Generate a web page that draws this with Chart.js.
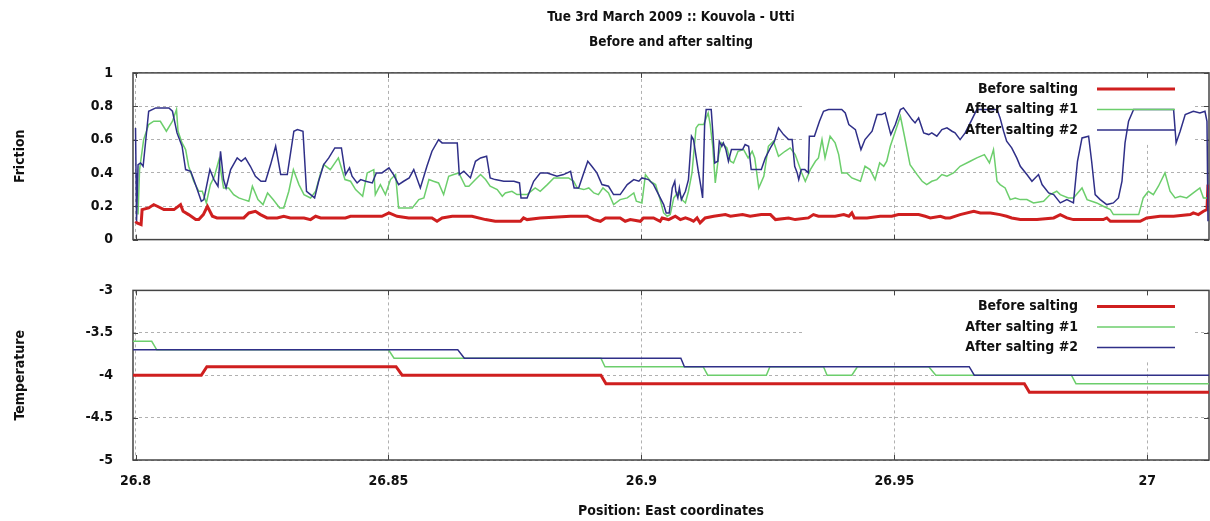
<!DOCTYPE html>
<html>
<head>
<meta charset="utf-8">
<script src="https://cdn.jsdelivr.net/npm/chart.js@4.4.1/dist/chart.umd.min.js"></script>
<style>
  html, body { margin: 0; padding: 0; background: #fff; }
  #wrap { position: relative; width: 1210px; height: 521px; overflow: hidden; background: #fff; }
  #friction { position: absolute; left: 0; top: 0; }
  #temperature { position: absolute; left: 0; top: 262px; }
</style>
</head>
<body>
<div id="wrap">
  <canvas id="friction" width="1210" height="268"></canvas>
  <canvas id="temperature" width="1210" height="259"></canvas>
</div>
<script>
// x axis: position, east coordinates
const xMin = 26.7995
const xMax = 27.0122
const xStep = 0.05

const seriesLabels = ['Before salting', 'After salting #1', 'After salting #2']

// Friction, before salting
const beforeFrictionX = [26.8000, 26.8003, 26.8011, 26.8013, 26.8026, 26.8036, 26.8043, 26.8056, 26.8076, 26.8089, 26.8094, 26.8105, 26.8119, 26.8125, 26.8134, 26.8142, 26.8152, 26.8161, 26.8214, 26.8224, 26.8237, 26.8247, 26.8260, 26.8280, 26.8293, 26.8306, 26.8333, 26.8346, 26.8356, 26.8366, 26.8389, 26.8415, 26.8425, 26.8451, 26.8468, 26.8487, 26.8501, 26.8517, 26.8540, 26.8586, 26.8596, 26.8606, 26.8626, 26.8665, 26.8692, 26.8711, 26.8761, 26.8767, 26.8774, 26.8800, 26.8860, 26.8893, 26.8906, 26.8919, 26.8929, 26.8958, 26.8968, 26.8978, 26.8998, 26.9004, 26.9024, 26.9037, 26.9041, 26.9054, 26.9067, 26.9077, 26.9087, 26.9097, 26.9103, 26.9110, 26.9116, 26.9126, 26.9143, 26.9166, 26.9176, 26.9200, 26.9215, 26.9237, 26.9255, 26.9265, 26.9291, 26.9304, 26.9330, 26.9340, 26.9350, 26.9383, 26.9400, 26.9410, 26.9416, 26.9421, 26.9446, 26.9472, 26.9495, 26.9508, 26.9548, 26.9561, 26.9571, 26.9591, 26.9601, 26.9610, 26.9630, 26.9657, 26.9670, 26.9690, 26.9709, 26.9722, 26.9732, 26.9749, 26.9782, 26.9815, 26.9828, 26.9841, 26.9854, 26.9913, 26.9920, 26.9927, 26.9986, 26.9999, 27.0025, 27.0052, 27.0085, 27.0091, 27.0101, 27.0111, 27.0118, 27.0120]
const beforeFrictionY = [0.11, 0.10, 0.09, 0.18, 0.19, 0.21, 0.20, 0.18, 0.18, 0.21, 0.17, 0.15, 0.12, 0.12, 0.15, 0.20, 0.14, 0.13, 0.13, 0.16, 0.17, 0.15, 0.13, 0.13, 0.14, 0.13, 0.13, 0.12, 0.14, 0.13, 0.13, 0.13, 0.14, 0.14, 0.14, 0.14, 0.16, 0.14, 0.13, 0.13, 0.11, 0.13, 0.14, 0.14, 0.12, 0.11, 0.11, 0.13, 0.12, 0.13, 0.14, 0.14, 0.12, 0.11, 0.13, 0.13, 0.11, 0.12, 0.11, 0.13, 0.13, 0.11, 0.13, 0.12, 0.14, 0.12, 0.13, 0.12, 0.11, 0.13, 0.10, 0.13, 0.14, 0.15, 0.14, 0.15, 0.14, 0.15, 0.15, 0.12, 0.13, 0.12, 0.13, 0.15, 0.14, 0.14, 0.15, 0.14, 0.16, 0.13, 0.13, 0.14, 0.14, 0.15, 0.15, 0.14, 0.13, 0.14, 0.13, 0.13, 0.15, 0.17, 0.16, 0.16, 0.15, 0.14, 0.13, 0.12, 0.12, 0.13, 0.15, 0.13, 0.12, 0.12, 0.13, 0.11, 0.11, 0.13, 0.14, 0.14, 0.15, 0.16, 0.15, 0.17, 0.18, 0.33]

// Friction, after salting #1
const after1FrictionX = [26.8005, 26.8008, 26.8016, 26.8026, 26.8036, 26.8049, 26.8061, 26.8073, 26.8081, 26.8084, 26.8092, 26.8099, 26.8105, 26.8115, 26.8125, 26.8132, 26.8140, 26.8148, 26.8156, 26.8165, 26.8174, 26.8184, 26.8194, 26.8204, 26.8214, 26.8224, 26.8231, 26.8242, 26.8252, 26.8261, 26.8272, 26.8285, 26.8293, 26.8303, 26.8312, 26.8323, 26.8333, 26.8346, 26.8356, 26.8366, 26.8372, 26.8385, 26.8401, 26.8414, 26.8425, 26.8435, 26.8449, 26.8458, 26.8471, 26.8474, 26.8484, 26.8494, 26.8504, 26.8514, 26.8520, 26.8534, 26.8547, 26.8560, 26.8570, 26.8580, 26.8589, 26.8599, 26.8609, 26.8619, 26.8629, 26.8639, 26.8652, 26.8659, 26.8672, 26.8682, 26.8692, 26.8701, 26.8715, 26.8725, 26.8731, 26.8744, 26.8754, 26.8764, 26.8774, 26.8790, 26.8800, 26.8814, 26.8827, 26.8843, 26.8856, 26.8866, 26.8873, 26.8886, 26.8896, 26.8906, 26.8915, 26.8924, 26.8935, 26.8945, 26.8958, 26.8972, 26.8985, 26.8990, 26.9001, 26.9008, 26.9018, 26.9028, 26.9037, 26.9044, 26.9051, 26.9057, 26.9064, 26.9074, 26.9080, 26.9087, 26.9093, 26.9100, 26.9108, 26.9113, 26.9123, 26.9132, 26.9136, 26.9141, 26.9146, 26.9153, 26.9159, 26.9169, 26.9176, 26.9182, 26.9191, 26.9202, 26.9211, 26.9219, 26.9224, 26.9232, 26.9242, 26.9251, 26.9261, 26.9271, 26.9284, 26.9294, 26.9304, 26.9317, 26.9324, 26.9334, 26.9344, 26.9350, 26.9357, 26.9363, 26.9373, 26.9383, 26.9390, 26.9396, 26.9406, 26.9416, 26.9433, 26.9442, 26.9452, 26.9462, 26.9471, 26.9479, 26.9485, 26.9492, 26.9502, 26.9512, 26.9520, 26.9531, 26.9545, 26.9555, 26.9564, 26.9574, 26.9584, 26.9594, 26.9604, 26.9617, 26.9630, 26.9650, 26.9663, 26.9678, 26.9688, 26.9696, 26.9703, 26.9709, 26.9719, 26.9729, 26.9739, 26.9749, 26.9762, 26.9775, 26.9795, 26.9808, 26.9821, 26.9828, 26.9844, 26.9854, 26.9871, 26.9881, 26.9900, 26.9913, 26.9927, 26.9933, 26.9953, 26.9983, 26.9992, 27.0002, 27.0012, 27.0022, 27.0035, 27.0045, 27.0055, 27.0065, 27.0078, 27.0091, 27.0104, 27.0111, 27.0118]
const after1FrictionY = [0.15, 0.42, 0.60, 0.69, 0.71, 0.71, 0.65, 0.71, 0.78, 0.65, 0.58, 0.54, 0.44, 0.35, 0.29, 0.29, 0.22, 0.33, 0.38, 0.48, 0.31, 0.31, 0.27, 0.25, 0.24, 0.23, 0.32, 0.24, 0.21, 0.28, 0.24, 0.19, 0.19, 0.29, 0.42, 0.33, 0.27, 0.25, 0.29, 0.40, 0.45, 0.42, 0.49, 0.36, 0.35, 0.30, 0.26, 0.40, 0.42, 0.27, 0.33, 0.27, 0.36, 0.39, 0.19, 0.19, 0.19, 0.24, 0.25, 0.36, 0.35, 0.34, 0.27, 0.38, 0.39, 0.40, 0.32, 0.32, 0.36, 0.39, 0.36, 0.32, 0.30, 0.26, 0.28, 0.29, 0.27, 0.27, 0.27, 0.31, 0.29, 0.33, 0.37, 0.37, 0.37, 0.35, 0.31, 0.30, 0.31, 0.28, 0.27, 0.31, 0.28, 0.21, 0.24, 0.25, 0.28, 0.23, 0.22, 0.39, 0.35, 0.33, 0.24, 0.16, 0.14, 0.15, 0.25, 0.29, 0.24, 0.22, 0.29, 0.40, 0.67, 0.69, 0.69, 0.76, 0.69, 0.56, 0.34, 0.51, 0.58, 0.55, 0.47, 0.46, 0.53, 0.54, 0.49, 0.53, 0.49, 0.31, 0.38, 0.56, 0.59, 0.50, 0.53, 0.55, 0.51, 0.40, 0.35, 0.42, 0.47, 0.49, 0.60, 0.49, 0.62, 0.58, 0.51, 0.40, 0.40, 0.37, 0.35, 0.44, 0.42, 0.36, 0.46, 0.44, 0.47, 0.56, 0.65, 0.74, 0.62, 0.45, 0.39, 0.35, 0.33, 0.35, 0.36, 0.39, 0.38, 0.40, 0.44, 0.47, 0.49, 0.51, 0.46, 0.54, 0.35, 0.33, 0.31, 0.24, 0.25, 0.24, 0.24, 0.22, 0.23, 0.27, 0.29, 0.27, 0.25, 0.25, 0.31, 0.24, 0.22, 0.20, 0.18, 0.15, 0.15, 0.15, 0.25, 0.29, 0.27, 0.32, 0.40, 0.29, 0.25, 0.26, 0.25, 0.28, 0.31, 0.25, 0.25]

// Friction, after salting #2
const after2FrictionX = [26.8000, 26.8001, 26.8002, 26.8005, 26.8010, 26.8015, 26.8022, 26.8026, 26.8040, 26.8066, 26.8073, 26.8082, 26.8092, 26.8099, 26.8109, 26.8115, 26.8122, 26.8130, 26.8135, 26.8147, 26.8155, 26.8163, 26.8168, 26.8174, 26.8179, 26.8188, 26.8201, 26.8209, 26.8217, 26.8227, 26.8237, 26.8248, 26.8257, 26.8267, 26.8277, 26.8287, 26.8300, 26.8305, 26.8313, 26.8320, 26.8331, 26.8338, 26.8346, 26.8354, 26.8362, 26.8372, 26.8382, 26.8394, 26.8407, 26.8415, 26.8423, 26.8428, 26.8438, 26.8445, 26.8455, 26.8468, 26.8476, 26.8487, 26.8501, 26.8510, 26.8520, 26.8530, 26.8541, 26.8550, 26.8563, 26.8576, 26.8586, 26.8599, 26.8606, 26.8616, 26.8636, 26.8640, 26.8649, 26.8662, 26.8672, 26.8682, 26.8694, 26.8701, 26.8711, 26.8728, 26.8748, 26.8759, 26.8762, 26.8774, 26.8787, 26.8800, 26.8814, 26.8833, 26.8846, 26.8860, 26.8867, 26.8876, 26.8886, 26.8894, 26.8902, 26.8912, 26.8922, 26.8935, 26.8945, 26.8958, 26.8972, 26.8985, 26.8995, 26.9001, 26.9014, 26.9024, 26.9034, 26.9044, 26.9049, 26.9055, 26.9061, 26.9066, 26.9068, 26.9072, 26.9075, 26.9079, 26.9087, 26.9093, 26.9099, 26.9103, 26.9112, 26.9118, 26.9121, 26.9125, 26.9128, 26.9138, 26.9141, 26.9145, 26.9151, 26.9154, 26.9159, 26.9162, 26.9167, 26.9172, 26.9178, 26.9186, 26.9195, 26.9200, 26.9205, 26.9212, 26.9217, 26.9237, 26.9245, 26.9255, 26.9263, 26.9271, 26.9281, 26.9291, 26.9298, 26.9303, 26.9308, 26.9311, 26.9316, 26.9323, 26.9330, 26.9332, 26.9342, 26.9352, 26.9360, 26.9370, 26.9383, 26.9396, 26.9403, 26.9410, 26.9423, 26.9434, 26.9442, 26.9456, 26.9466, 26.9475, 26.9482, 26.9493, 26.9502, 26.9512, 26.9518, 26.9528, 26.9535, 26.9541, 26.9548, 26.9558, 26.9568, 26.9574, 26.9584, 26.9594, 26.9604, 26.9614, 26.9620, 26.9630, 26.9640, 26.9650, 26.9663, 26.9673, 26.9703, 26.9709, 26.9716, 26.9722, 26.9732, 26.9742, 26.9749, 26.9762, 26.9772, 26.9785, 26.9792, 26.9805, 26.9815, 26.9828, 26.9841, 26.9854, 26.9862, 26.9871, 26.9884, 26.9890, 26.9897, 26.9907, 26.9920, 26.9933, 26.9943, 26.9950, 26.9956, 26.9963, 26.9973, 27.0052, 27.0057, 27.0065, 27.0075, 27.0091, 27.0104, 27.0114, 27.0118, 27.0120]
const after2FrictionY = [0.67, 0.40, 0.11, 0.45, 0.46, 0.44, 0.65, 0.77, 0.79, 0.79, 0.77, 0.64, 0.56, 0.42, 0.41, 0.36, 0.30, 0.23, 0.24, 0.42, 0.36, 0.32, 0.53, 0.36, 0.31, 0.42, 0.49, 0.47, 0.49, 0.44, 0.38, 0.35, 0.35, 0.45, 0.56, 0.39, 0.39, 0.49, 0.65, 0.66, 0.65, 0.29, 0.27, 0.25, 0.35, 0.45, 0.49, 0.55, 0.55, 0.39, 0.43, 0.38, 0.34, 0.36, 0.35, 0.34, 0.40, 0.40, 0.43, 0.39, 0.33, 0.35, 0.37, 0.42, 0.31, 0.44, 0.53, 0.60, 0.58, 0.58, 0.58, 0.39, 0.41, 0.37, 0.47, 0.49, 0.50, 0.37, 0.36, 0.35, 0.35, 0.34, 0.25, 0.25, 0.35, 0.40, 0.40, 0.38, 0.39, 0.41, 0.31, 0.31, 0.40, 0.47, 0.44, 0.40, 0.33, 0.32, 0.27, 0.27, 0.33, 0.36, 0.35, 0.37, 0.36, 0.33, 0.27, 0.21, 0.16, 0.16, 0.31, 0.35, 0.29, 0.25, 0.31, 0.24, 0.29, 0.36, 0.62, 0.60, 0.42, 0.31, 0.25, 0.69, 0.78, 0.78, 0.65, 0.46, 0.47, 0.59, 0.56, 0.58, 0.54, 0.47, 0.54, 0.54, 0.54, 0.54, 0.57, 0.56, 0.42, 0.42, 0.49, 0.55, 0.59, 0.67, 0.63, 0.60, 0.60, 0.44, 0.40, 0.36, 0.42, 0.42, 0.40, 0.62, 0.62, 0.71, 0.77, 0.78, 0.78, 0.78, 0.76, 0.69, 0.66, 0.54, 0.60, 0.65, 0.75, 0.75, 0.76, 0.63, 0.69, 0.78, 0.79, 0.75, 0.72, 0.70, 0.73, 0.64, 0.63, 0.64, 0.62, 0.66, 0.67, 0.65, 0.64, 0.60, 0.64, 0.70, 0.78, 0.78, 0.78, 0.73, 0.65, 0.59, 0.55, 0.49, 0.44, 0.39, 0.35, 0.39, 0.33, 0.28, 0.27, 0.22, 0.24, 0.22, 0.47, 0.61, 0.62, 0.47, 0.27, 0.24, 0.21, 0.22, 0.25, 0.35, 0.58, 0.71, 0.78, 0.78, 0.58, 0.65, 0.75, 0.77, 0.76, 0.77, 0.71, 0.11]

// Temperature
const beforeTempX = [26.7995, 26.8130, 26.8141, 26.8515, 26.8527, 26.8920, 26.8930, 26.9757, 26.9767, 27.0122]
const beforeTempY = [-4, -4, -3.9, -3.9, -4, -4, -4.1, -4.1, -4.2, -4.2]
const after1TempX = [26.7995, 26.8032, 26.8042, 26.8500, 26.8511, 26.8920, 26.8928, 26.9122, 26.9131, 26.9247, 26.9254, 26.9360, 26.9367, 26.9416, 26.9427, 26.9568, 26.9582, 26.9850, 26.9859, 27.0122]
const after1TempY = [-3.6, -3.6, -3.7, -3.7, -3.8, -3.8, -3.9, -3.9, -4, -4, -3.9, -3.9, -4, -4, -3.9, -3.9, -4, -4, -4.1, -4.1]
const after2TempX = [26.7995, 26.8637, 26.8650, 26.9078, 26.9085, 26.9648, 26.9658, 27.0122]
const after2TempY = [-3.7, -3.7, -3.8, -3.8, -3.9, -3.9, -4, -4]

const FONT = "'Liberation Sans Narrow', 'Arial Narrow', 'DejaVu Sans Condensed', sans-serif"
const colors = ['#cf1f1f', '#6cce6c', '#2f2f88']
const widths = [3, 1.5, 1.5]

Chart.defaults.font.family = FONT
Chart.defaults.font.size = 14
Chart.defaults.font.weight = 'bold'
Chart.defaults.color = '#111'

const fmt = v => String(+Number(v).toFixed(4))

function series(i, xs, ys) {
  return {
    label: seriesLabels[i],
    data: xs.map((x, k) => ({ x: x, y: ys[k] })),
    borderColor: colors[i],
    borderWidth: widths[i],
    pointRadius: 0,
    tension: 0,
    fill: false,
    order: 2 - i
  }
}

// gnuplot-like frame, inward ticks and opaque key
const keyPlugin = {
  id: 'gnuKey',
  beforeDatasetsDraw(chart) {
    const { ctx, chartArea: a, scales } = chart
    ctx.save()
    ctx.fillStyle = '#fff'
    ctx.fillRect(805, a.top + 1, 1192 - 805, 70)
    ctx.strokeStyle = '#444'
    ctx.lineWidth = 1
    ctx.beginPath()
    scales.x.ticks.forEach(t => {
      const px = Math.round(scales.x.getPixelForValue(t.value)) + 0.5
      ctx.moveTo(px, a.bottom); ctx.lineTo(px, a.bottom - 5)
      ctx.moveTo(px, a.top); ctx.lineTo(px, a.top + 5)
    })
    scales.y.ticks.forEach(t => {
      const py = Math.round(scales.y.getPixelForValue(t.value)) + 0.5
      ctx.moveTo(a.left, py); ctx.lineTo(a.left + 5, py)
      ctx.moveTo(a.right, py); ctx.lineTo(a.right - 5, py)
    })
    ctx.stroke()
    ctx.lineWidth = 1.5
    ctx.strokeRect(a.left, a.top, a.right - a.left, a.bottom - a.top)
    ctx.restore()
  },
  afterDatasetsDraw(chart) {
    const { ctx, chartArea: a } = chart
    ctx.save()
    ctx.font = 'bold 14px ' + FONT
    ctx.textAlign = 'right'
    ctx.textBaseline = 'middle'
    chart.data.datasets.forEach((ds, i) => {
      const y = a.top + 16 + i * 20.5
      ctx.fillStyle = '#111'
      ctx.fillText(ds.label, 1078, y)
      ctx.strokeStyle = ds.borderColor
      ctx.lineWidth = ds.borderWidth
      ctx.beginPath()
      ctx.moveTo(1097, y)
      ctx.lineTo(1175, y)
      ctx.stroke()
    })
    ctx.restore()
  }
}

function panelOptions(yMin, yMax, yStep, yTitle, bottomAxis, padding) {
  return {
    responsive: false,
    animation: false,
    layout: { padding: padding },
    plugins: {
      legend: { display: false },
      tooltip: { enabled: false }
    },
    scales: {
      x: {
        type: 'linear',
        min: xMin,
        max: xMax,
        grid: { color: '#b0b0b0', drawTicks: false },
        border: { display: false, dash: [3, 3] },
        ticks: { display: bottomAxis, stepSize: xStep, includeBounds: false, autoSkip: false, maxRotation: 0, padding: 13, callback: fmt },
        title: { display: bottomAxis, text: 'Position: East coordinates', padding: { top: 0, bottom: 1 } },
        afterFit: s => { s.height = bottomAxis ? 61 : 0 }
      },
      y: {
        min: yMin,
        max: yMax,
        grid: { color: '#b0b0b0', drawTicks: false },
        border: { display: false, dash: [3, 3] },
        ticks: { stepSize: yStep, includeBounds: false, padding: 20, callback: fmt },
        title: { display: true, text: yTitle, padding: { top: 12, bottom: 0 } },
        afterFit: s => { s.width = 133 }
      }
    }
  }
}

const topOptions = panelOptions(0, 1, 0.2, 'Friction', false, { top: 0, right: 1, bottom: 12, left: 0 })
topOptions.plugins.title = {
  display: true, fullSize: false,
  text: 'Tue 3rd March 2009 :: Kouvola - Utti',
  font: { size: 13.5, weight: 'bold' }, color: '#111',
  padding: { top: 9, bottom: 0 }
}
topOptions.plugins.subtitle = {
  display: true, fullSize: false,
  text: 'Before and after salting',
  font: { size: 13.5, weight: 'bold' }, color: '#111',
  padding: { top: 9.5, bottom: 22 }
}

new Chart(document.getElementById('friction'), {
  type: 'line',
  data: {
    datasets: [
      series(0, beforeFrictionX, beforeFrictionY),
      series(1, after1FrictionX, after1FrictionY),
      series(2, after2FrictionX, after2FrictionY)
    ]
  },
  options: topOptions,
  plugins: [keyPlugin]
})

new Chart(document.getElementById('temperature'), {
  type: 'line',
  data: {
    datasets: [
      series(0, beforeTempX, beforeTempY),
      series(1, after1TempX, after1TempY),
      series(2, after2TempX, after2TempY)
    ]
  },
  options: panelOptions(-5, -3, 0.5, 'Temperature', true, { top: 18, right: 1, bottom: 0, left: 0 }),
  plugins: [keyPlugin]
})
</script>
</body>
</html>
